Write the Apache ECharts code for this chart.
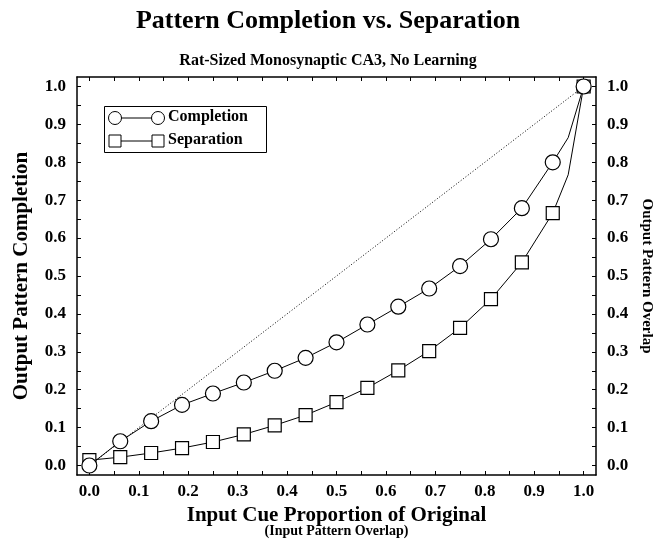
<!DOCTYPE html>
<html>
<head>
<meta charset="utf-8">
<script src="https://cdn.jsdelivr.net/npm/echarts@6/dist/echarts.min.js"></script>
<style>
  html, body { margin: 0; padding: 0; background: #fff; }
  #chart { width: 656px; height: 540px; }
</style>
</head>
<body>
<div id="chart"></div>
<script>
// input cue proportion (x), the 31/32 point has no marker
var cueX = [0, 0.0625, 0.125, 0.1875, 0.25, 0.3125, 0.375, 0.4375, 0.5,
  0.5625, 0.625, 0.6875, 0.75, 0.8125, 0.875, 0.9375, 0.96875, 1.0];
var completion = [0.0, 0.064, 0.117, 0.16, 0.19, 0.219, 0.25, 0.284, 0.325,
  0.372, 0.419, 0.467, 0.526, 0.597, 0.679, 0.80, 0.865, 1.0];
var separation = [0.014, 0.022, 0.033, 0.046, 0.062, 0.082, 0.106, 0.133, 0.167,
  0.205, 0.251, 0.302, 0.363, 0.439, 0.536, 0.666, 0.767, 1.0];
var noMarkerX = 0.96875;
var identity = [[0, 0], [1, 1]];

var labelValues = [0, 0.1, 0.2, 0.3, 0.4, 0.5, 0.6, 0.7, 0.8, 0.9, 1.0];
var tickValues = [0, 0.05, 0.1, 0.15, 0.2, 0.25, 0.3, 0.35, 0.4, 0.45, 0.5,
  0.55, 0.6, 0.65, 0.7, 0.75, 0.8, 0.85, 0.9, 0.95, 1.0];

var FONT = '"Liberation Serif", "DejaVu Serif", serif';

function toPairs(ys) {
  return cueX.map(function (x, i) {
    var item = { value: [x, ys[i]] };
    if (x === noMarkerX) item.symbol = 'none';
    return item;
  });
}

function axisBase(pos, showLabel, margin) {
  return {
    type: 'value',
    position: pos,
    min: -0.025,
    max: 1.025,
    axisLine: { show: true, onZero: false, lineStyle: { color: '#000', width: 1.5 } },
    axisTick: { show: true, inside: true, length: 4, customValues: tickValues,
      lineStyle: { color: '#000', width: 1 } },
    axisLabel: {
      show: showLabel,
      customValues: labelValues,
      formatter: function (v) { return v.toFixed(1); },
      fontFamily: FONT, fontWeight: 'bold', fontSize: 17, color: '#000', margin: margin
    },
    splitLine: { show: false }
  };
}

var xBottom = axisBase('bottom', true, 8);
xBottom.name = '{a|Input Cue Proportion of Original}\n{b|(Input Pattern Overlap)}';
xBottom.nameLocation = 'middle';
xBottom.nameGap = 28;
xBottom.nameTextStyle = {
  rich: {
    a: { fontFamily: FONT, fontWeight: 'bold', fontSize: 21, color: '#000', lineHeight: 17 },
    b: { fontFamily: FONT, fontWeight: 'bold', fontSize: 14, color: '#000', lineHeight: 14 }
  }
};
var xTop = axisBase('top', false, 8);

var yLeft = axisBase('left', true, 11);
yLeft.name = 'Output Pattern Completion';
yLeft.nameLocation = 'middle';
yLeft.nameGap = 45;
yLeft.nameTextStyle = { fontFamily: FONT, fontWeight: 'bold', fontSize: 21, color: '#000' };

var yRight = axisBase('right', true, 11);
yRight.name = 'Output Pattern Overlap';
yRight.nameLocation = 'middle';
yRight.nameGap = 40;
yRight.nameRotate = -90;
yRight.nameTextStyle = { fontFamily: FONT, fontWeight: 'bold', fontSize: 15, color: '#000' };

var lineCommon = {
  type: 'line',
  showSymbol: true,
  lineStyle: { color: '#000', width: 1 },
  itemStyle: { color: '#fff', borderColor: '#000', borderWidth: 1.2 },
  emphasis: { disabled: true },
  animation: false,
  z: 3
};

var option = {
  backgroundColor: '#fff',
  animation: false,
  title: [
    { text: 'Pattern Completion vs. Separation', left: 'center', top: 3,
      textStyle: { fontFamily: FONT, fontWeight: 'bold', fontSize: 26, color: '#000' } },
    { text: 'Rat-Sized Monosynaptic CA3, No Learning', left: 'center', top: 48,
      textStyle: { fontFamily: FONT, fontWeight: 'bold', fontSize: 16, color: '#000' } }
  ],
  grid: { left: 77, right: 60, top: 77, bottom: 65, outerBoundsMode: 'none', containLabel: false },
  xAxis: [xBottom, xTop],
  yAxis: [yLeft, yRight],
  series: [
    {
      name: 'Identity', type: 'line', data: identity, symbol: 'none', silent: true,
      lineStyle: { color: '#000', width: 1, type: [1, 2] }, z: 2
    },
    Object.assign({}, lineCommon, {
      name: 'Separation', data: toPairs(separation), symbol: 'rect', symbolSize: 13
    }),
    Object.assign({}, lineCommon, {
      name: 'Completion', data: toPairs(completion), symbol: 'circle', symbolSize: 15
    })
  ],
  graphic: [
    { type: 'rect', left: 104, top: 106, shape: { width: 162, height: 46 },
      style: { fill: '#fff', stroke: '#000', lineWidth: 1 }, z: 10 },
    { type: 'line', shape: { x1: 115, y1: 118, x2: 158, y2: 118 }, style: { stroke: '#000', lineWidth: 1 }, z: 11 },
    { type: 'circle', shape: { cx: 115, cy: 118, r: 6.5 }, style: { fill: '#fff', stroke: '#000', lineWidth: 1 }, z: 12 },
    { type: 'circle', shape: { cx: 158, cy: 118, r: 6.5 }, style: { fill: '#fff', stroke: '#000', lineWidth: 1 }, z: 12 },
    { type: 'text', left: 168, top: 109, style: { text: 'Completion', fontFamily: FONT, fontWeight: 'bold', fontSize: 16, fill: '#000' }, z: 12 },
    { type: 'line', shape: { x1: 115, y1: 141, x2: 158, y2: 141 }, style: { stroke: '#000', lineWidth: 1 }, z: 11 },
    { type: 'rect', shape: { x: 109, y: 135, width: 12, height: 12 }, style: { fill: '#fff', stroke: '#000', lineWidth: 1 }, z: 12 },
    { type: 'rect', shape: { x: 152, y: 135, width: 12, height: 12 }, style: { fill: '#fff', stroke: '#000', lineWidth: 1 }, z: 12 },
    { type: 'text', left: 168, top: 132, style: { text: 'Separation', fontFamily: FONT, fontWeight: 'bold', fontSize: 16, fill: '#000' }, z: 12 }
  ]
};

var chart = echarts.init(document.getElementById('chart'), null, { renderer: 'canvas' });
chart.setOption(option);
</script>
</body>
</html>
